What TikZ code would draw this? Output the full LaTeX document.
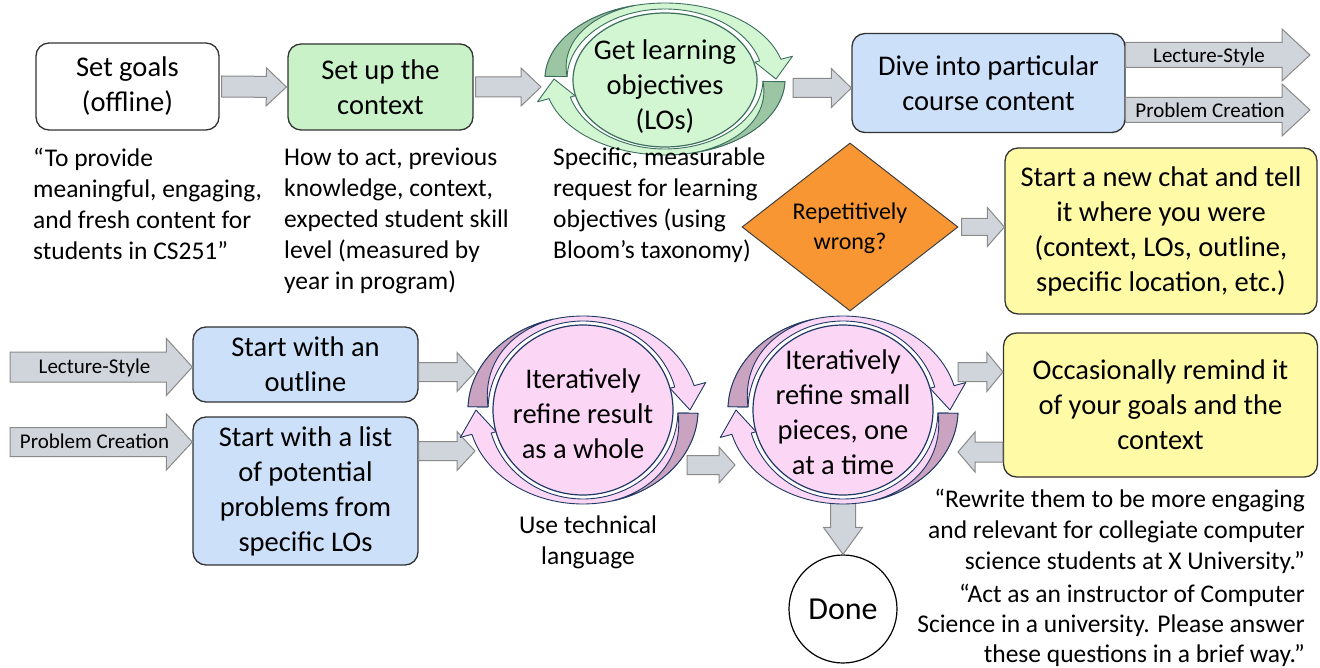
\documentclass[tikz,border=0pt]{standalone}
\usepackage{fontspec}
\setmainfont{Carlito}
\usetikzlibrary{shapes.geometric,calc}
\definecolor{arrfill}{HTML}{D0D5DC}
\definecolor{arrline}{HTML}{8A8A8A}
\definecolor{boxblue}{HTML}{CCE0FA}
\definecolor{boxgreen}{HTML}{C9F2C9}
\definecolor{boxyellow}{HTML}{FFFAA5}
\definecolor{orangeA}{HTML}{F79632}
\definecolor{grnlight}{HTML}{D2F5D2}
\definecolor{grndark}{HTML}{9CC5A4}
\definecolor{grnline}{HTML}{3E6F5E}
\definecolor{pnklight}{HTML}{FCD6F5}
\definecolor{pnkdark}{HTML}{C9A3BF}
\definecolor{pnkline}{HTML}{1F3864}
\newcommand{\bigf}{\fontsize{28.5}{35}\selectfont}
\newcommand{\annf}{\fontsize{25.5}{31}\selectfont}
\newcommand{\quotf}{\fontsize{25.5}{30}\selectfont}
\newcommand{\labf}{\fontsize{21}{24}\selectfont}
\newcommand{\barrow}[5]{%
  \path #1 coordinate (bA);
  \path #2 coordinate (bB);
  \pgfpointdiff{\pgfpointanchor{bA}{center}}{\pgfpointanchor{bB}{center}}%
  \pgfgetlastxy{\bdx}{\bdy}%
  \pgfmathsetmacro{\bang}{atan2(\bdy,\bdx)}%
  \pgfmathsetmacro{\blen}{veclen(\bdx,\bdy)}%
  \filldraw[fill=arrfill, draw=arrline, line width=1pt, line join=miter, shift={(bA)}, rotate=\bang]
   (0pt,-#3pt) -- ({(\blen-#5)*1pt},-#3pt) -- ({(\blen-#5)*1pt},-#4pt) -- ({\blen*1pt},0pt)
   -- ({(\blen-#5)*1pt},#4pt) -- ({(\blen-#5)*1pt},#3pt) -- (0pt,#3pt) -- cycle;}
\newcommand{\ringarrows}[9]{%
 \foreach \rot in {0,180}{%
  \pgfmathsetmacro{\angS}{178+\rot}\pgfmathsetmacro{\angE}{15+\rot}%
  \pgfmathsetmacro{\angT}{0+\rot}\pgfmathsetmacro{\angC}{105+\rot}%
  \filldraw[fill=#7, draw=#9, line width=0.9pt, line join=round]
   plot[domain=\angS:\angE, samples=50, variable=\t] ({#1+#5*cos(\t)},{#2-#6*sin(\t)})
   -- ({#1+(#5+12)*cos(\angE)},{#2-(#6+12)*sin(\angE)})
   -- ({#1+((#3+#5)/2+2)*cos(\angT)},{#2-((#4+#6)/2)*sin(\angT)})
   -- ({#1+(#3-5)*cos(\angE)},{#2-(#4-5)*sin(\angE)})
   -- plot[domain=\angE:\angS, samples=50, variable=\t] ({#1+#3*cos(\t)},{#2-#4*sin(\t)}) -- cycle;
  \filldraw[fill=#8, draw=#9, line width=0.9pt, line join=round]
   plot[domain=\angS:\angC, samples=40, variable=\t] ({#1+#5*cos(\t)},{#2-#6*sin(\t)})
   -- plot[domain=\angC:\angS, samples=40, variable=\t]
   ({#1+(#3+(#5-#3)*(\angS-\t)/(\angS-\angC))*cos(\t)},{#2-(#4+(#6-#4)*(\angS-\t)/(\angS-\angC))*sin(\t)}) -- cycle;
 }}
\tikzset{
  box/.style={draw=black!80, line width=1.3pt, rounded corners=13pt, align=center, font=\bigf, inner sep=0pt},
  ann/.style={align=left, font=\annf, inner sep=0pt, anchor=north west},
}
\begin{document}
\begin{tikzpicture}[x=1pt,y=-1pt]
\useasboundingbox (0,0) rectangle (1320,668);
\fill[white] (0,0) rectangle (1320,668);

% ---- nodes (boxes) ----
\node[box, fill=white, minimum width=183pt, minimum height=87pt] (goals) at (127.5,86.5) {Set goals\\(offline)};
\node[box, fill=boxgreen, minimum width=185pt, minimum height=86pt] (context) at (380.5,87) {Set up the\\context};
\node[box, fill=boxblue, minimum width=273pt, minimum height=99pt] (dive) at (988.5,83) {Dive into particular\\course content};
\node[box, fill=boxyellow, minimum width=312pt, minimum height=166pt] (yellowA) at (1161,231) {Start a new chat and tell\\it where you were\\(context, LOs, outline,\\specific location, etc.)};
\node[box, fill=boxblue, minimum width=225pt, minimum height=75pt] (outline) at (305.5,364.5) {Start with an\\outline};
\node[box, fill=boxblue, minimum width=225pt, minimum height=148pt] (list) at (305.5,491) {Start with a list\\of potential\\problems from\\specific LOs};
\node[box, fill=boxyellow, minimum width=314pt, minimum height=144pt] (yellowB) at (1160.5,405) {Occasionally remind it\\of your goals and the\\context};
\node[diamond, draw=black!75, fill=orangeA, line width=1pt, minimum width=216pt, minimum height=168pt, inner sep=0pt] (rep) at (850,227) {};
\node[font=\fontsize{24}{30}\selectfont, align=center] (rept) at ([yshift=-1pt]rep.center) {Repetitively\\wrong?};
\node[circle, draw=black, line width=1.2pt, minimum size=108pt, inner sep=0pt, font=\fontsize{32}{38}\selectfont] (done) at (843,609) {Done};

% ---- connector coordinates ----
\coordinate (a2e) at (541,87);
\coordinate (a3s) at (793,88);
\coordinate (tlA) at (1310,55);
\coordinate (tlB) at (1310,110);
\coordinate (llA) at (10,367);
\coordinate (llB) at (10,442);
\coordinate (opA) at (475,372);
\coordinate (opB) at (475,451);
\coordinate (ppS) at (687,465);
\coordinate (ppE) at (735,465);
\coordinate (pyA) at (958,372);
\coordinate (pyB) at (958,452);
\coordinate (dnS) at (843,503);

% ---- block arrows ----
\barrow{([xshift=2pt]goals.east)}{([xshift=-1pt]context.west)}{10.5}{19}{20}
\barrow{([xshift=2pt]context.east)}{(a2e)}{10}{19}{20}
\barrow{(a3s)}{(dive.west |- a3s)}{9.5}{19.5}{20}
\barrow{(dive.east |- tlA)}{(tlA)}{12.5}{26}{28}
\barrow{(dive.east |- tlB)}{(tlB)}{12.5}{26}{28}
\barrow{([xshift=3pt]rep.east)}{(yellowA.west |- rep.east)}{8.5}{19.5}{17}
\barrow{(llA)}{(outline.west |- llA)}{15}{28.5}{26}
\barrow{(llB)}{(list.west |- llB)}{14.5}{28}{26}
\barrow{(outline.east |- opA)}{(opA)}{9.5}{19.5}{18}
\barrow{(list.east |- opB)}{(opB)}{9.5}{19.5}{18}
\barrow{(ppS)}{(ppE)}{9.5}{18}{16}
\barrow{(pyA)}{(yellowB.west |- pyA)}{9.5}{19.5}{16}
\barrow{(yellowB.west |- pyB)}{(pyB)}{10}{20}{17}
\barrow{(dnS)}{(done.north)}{12.5}{19.5}{27}

\node[font=\labf, anchor=base] (lsA) at (1209,63) {Lecture-Style};
\node[font=\labf, anchor=base] (pcA) at (1210,118) {Problem Creation};
\node[font=\labf, anchor=base] (lsB) at (94.5,373) {Lecture-Style};
\node[font=\labf, anchor=base] (pcB) at (94.5,448) {Problem Creation};

% ---- circular arrows and ellipses ----
\ringarrows{665}{79}{98}{70}{120}{76}{grnlight}{grndark}{grnline}
\node[ellipse, draw=grnline, line width=1.2pt, fill=grnlight, minimum width=184pt, minimum height=134pt, inner sep=0pt] (lo) at (665,80) {};
\node[font=\bigf, align=center] (lot) at ([yshift=-7pt]lo.center) {Get learning\\objectives\\(LOs)};

\ringarrows{583}{410}{95}{89}{115}{94}{pnklight}{pnkdark}{pnkline}
\node[ellipse, draw=pnkline, line width=1.2pt, fill=pnklight, minimum width=180pt, minimum height=170pt, inner sep=0pt] (pA) at (583,410) {};
\node[font=\bigf, align=center] (pAt) at ([yshift=-4pt]pA.center) {Iteratively\\refine result\\as a whole};

\ringarrows{843}{410}{95}{89}{115}{94}{pnklight}{pnkdark}{pnkline}
\node[ellipse, draw=pnkline, line width=1.2pt, fill=pnklight, minimum width=180pt, minimum height=170pt, inner sep=0pt] (pB) at (843,410) {};
\node[font=\bigf, align=center] (pBt) at ([yshift=-2pt]pB.center) {Iteratively\\refine small\\pieces, one\\at a time};

% ---- annotations ----
\node[ann] (annA) at (33,148) {“To provide\\meaningful, engaging,\\and fresh content for\\students in CS251”};
\node[ann] (annB) at (284,148) {How to act, previous\\knowledge, context,\\expected student skill\\level (measured by\\year in program)};
\node[ann] (annC) at (553,148) {Specific, measurable\\request for learning\\objectives (using\\Bloom’s taxonomy)};
\node[align=center, font=\annf, inner sep=0pt, anchor=north] (tech) at (588,516) {Use technical\\language};
\node[align=right, font=\annf, inner sep=0pt, anchor=north east] (qA) at (1305,489) {“Rewrite them to be more engaging\\and relevant for collegiate computer\\science students at X University.”};
\node[align=right, font=\quotf, inner sep=0pt, anchor=north east] (qB) at (1305,584) {“Act as an instructor of Computer\\Science in a university. Please answer\\these questions in a brief way.”};
\end{tikzpicture}
\end{document}
